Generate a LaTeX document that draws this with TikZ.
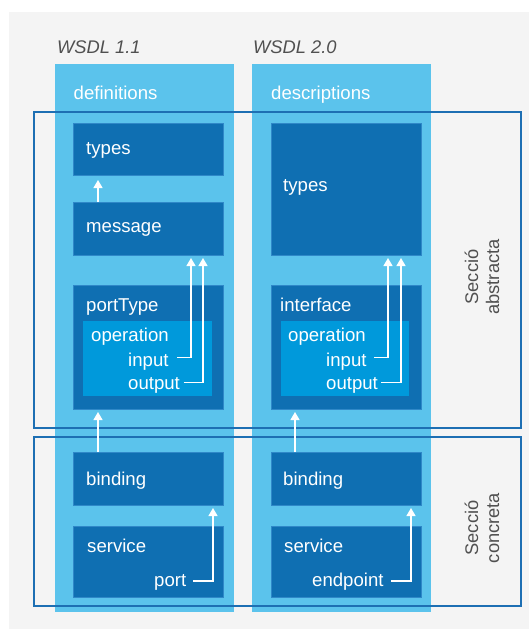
\documentclass[tikz,border=0pt]{standalone}
\usepackage{fontspec}
\setmainfont{Liberation Sans}
\usetikzlibrary{arrows.meta}
\definecolor{bggray}{HTML}{F4F4F4}
\definecolor{colblue}{HTML}{5BC3EC}
\definecolor{darkblue}{HTML}{0F6FB2}
\definecolor{edgeblue}{HTML}{2F88C8}
\definecolor{opblue}{HTML}{0099DB}
\definecolor{secblue}{HTML}{1D6FB3}
\definecolor{txtgray}{HTML}{505050}
\begin{document}
\begin{tikzpicture}[x=1pt,y=-1pt,
  col/.style={fill=colblue,inner sep=0pt,outer sep=0pt,anchor=north west},
  dbox/.style={fill=darkblue,draw=edgeblue,line width=0.7pt,inner sep=0pt,outer sep=0pt,anchor=north west},
  opbox/.style={fill=opblue,inner sep=0pt,outer sep=0pt,anchor=north west},
  sec/.style={draw=secblue,line width=1.6pt,inner sep=0pt,outer sep=0pt,anchor=north west},
  lbl/.style={text=white,font=\fontsize{18.6}{21}\selectfont,inner sep=0pt,anchor=base west},
  ttl/.style={text=txtgray,font=\fontsize{18.3}{21}\selectfont\itshape,inner sep=0pt,anchor=base west},
  side/.style={text=txtgray,font=\fontsize{18.3}{21}\selectfont,inner sep=0pt,align=center,rotate=90},
  arr/.style={draw=white,line width=1.3pt,-{Triangle[width=9pt,length=8pt]}}
]
\useasboundingbox (0,0) rectangle (529,629);
\fill[white] (0,0) rectangle (529,629);
\fill[bggray] (9,12) rectangle (529,629);

% titles
\node[ttl] (w11) at (57,53) {WSDL 1.1};
\node[ttl] (w20) at (253,53) {WSDL 2.0};

% columns
\node[col,minimum width=179pt,minimum height=548pt] (c1) at (55,64) {};
\node[col,minimum width=179pt,minimum height=548pt] (c2) at (252,64) {};
\node[lbl] (def) at (73.5,99.5) {definitions};
\node[lbl] (desc) at (271,99.5) {descriptions};

% sections
\node[sec,minimum width=487pt,minimum height=316pt] (abs) at (34,112) {};
\node[sec,minimum width=487pt,minimum height=169pt] (con) at (34,437) {};
\node[side] (abst) at (482,277) {Secció\\abstracta};
\node[side] (conc) at (482,528) {Secció\\concreta};

% left column boxes
\node[dbox,minimum width=150pt,minimum height=52pt] (t1) at (73,123) {};
\node[dbox,minimum width=150pt,minimum height=53pt] (m1) at (73,202) {};
\node[dbox,minimum width=150pt,minimum height=124pt] (p1) at (73,285) {};
\node[opbox,minimum width=129pt,minimum height=75pt] (o1) at (83,321) {};
\node[dbox,minimum width=150pt,minimum height=53pt] (b1) at (73,452) {};
\node[dbox,minimum width=150pt,minimum height=71pt] (s1) at (73,526) {};

\node[lbl] (t1l) at (86,154) {types};
\node[lbl] (m1l) at (86,232.7) {message};
\node[lbl] (p1l) at (86,311.7) {portType};
\node[lbl] (o1l) at (91,341.7) {operation};
\node[lbl] (in1) at (128,366.7) {input};
\node[lbl] (out1) at (128,389.3) {output};
\node[lbl] (b1l) at (86,485) {binding};
\node[lbl] (s1l) at (87,552) {service};
\node[lbl] (port1) at (154,586) {port};

% right column boxes
\node[dbox,minimum width=150pt,minimum height=132pt] (t2) at (271,123) {};
\node[dbox,minimum width=150pt,minimum height=124pt] (p2) at (271,285) {};
\node[opbox,minimum width=128pt,minimum height=75pt] (o2) at (281,321) {};
\node[dbox,minimum width=150pt,minimum height=53pt] (b2) at (271,452) {};
\node[dbox,minimum width=150pt,minimum height=71pt] (s2) at (271,526) {};

\node[lbl] (t2l) at (283,191.7) {types};
\node[lbl] (p2l) at (280,311.7) {interface};
\node[lbl] (o2l) at (288,341.7) {operation};
\node[lbl] (in2) at (326,366.7) {input};
\node[lbl] (out2) at (326,389.3) {output};
\node[lbl] (b2l) at (283,485) {binding};
\node[lbl] (s2l) at (284,552) {service};
\node[lbl] (ep2) at (312,586) {endpoint};

% connector start points
\coordinate (inA) at (177,357.5);
\coordinate (outA) at (183.5,382.8);
\coordinate (portA) at (193,581);
\coordinate (inB) at (374,357.5);
\coordinate (outB) at (381,382.8);
\coordinate (epB) at (391,581);

% arrows left
\draw[arr,shorten >=5pt] ([xshift=25pt]m1.north west) -- ([xshift=25pt]t1.south west);
\draw[arr,shorten >=3pt] (inA) -| ([xshift=-32pt]m1.south east);
\draw[arr,shorten >=3pt] (outA) -| ([xshift=-20pt]m1.south east);
\draw[arr,shorten >=3pt] ([xshift=25pt]b1.north west) -- ([xshift=25pt]p1.south west);
\draw[arr,shorten >=3pt] (portA) -| ([xshift=-10pt]b1.south east);

% arrows right
\draw[arr,shorten >=3pt] (inB) -| ([xshift=-33pt]t2.south east);
\draw[arr,shorten >=3pt] (outB) -| ([xshift=-20pt]t2.south east);
\draw[arr,shorten >=3pt] ([xshift=24pt]b2.north west) -- ([xshift=24pt]p2.south west);
\draw[arr,shorten >=3pt] (epB) -| ([xshift=-10pt]b2.south east);
\end{tikzpicture}
\end{document}
